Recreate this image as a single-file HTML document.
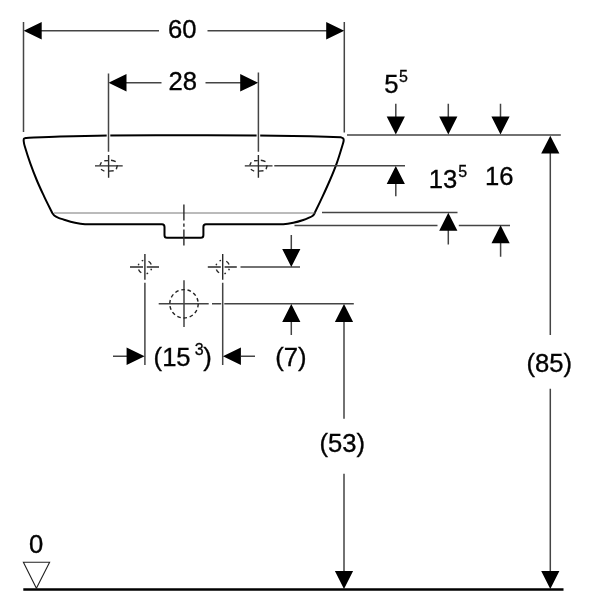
<!DOCTYPE html>
<html><head><meta charset="utf-8">
<style>
html,body{margin:0;padding:0;background:#fff;}
svg{display:block;}
text{font-family:"Liberation Sans",sans-serif;fill:#000;}
.t{font-size:25px;stroke:#000;stroke-width:0.35px;}
.s{font-size:16px;stroke:#000;stroke-width:0.3px;}
.l{stroke:#444;stroke-width:1.5;fill:none;}
.g{stroke:#666;stroke-width:0.9;fill:none;}
.c{stroke:#2a2a2a;stroke-width:1.4;fill:none;}
.b{stroke:#000;stroke-width:2;fill:none;stroke-linejoin:round;stroke-linecap:round;}
.a{fill:#000;stroke:none;}
.d{stroke:#222;stroke-width:1.4;fill:none;}
</style></head><body>
<svg width="600" height="600" viewBox="0 0 600 600">
<rect width="600" height="600" fill="#fff"/>

<!-- 60 dimension -->
<path class="l" d="M23.5 22V132 M344.3 22V132.5 M41 30.8H159 M207.5 30.8H327"/>
<path class="a" d="M23.7 30.8L41.7 22V39.6Z M344.2 30.8L326.2 22V39.6Z"/>

<!-- 28 dimension -->
<path class="l" d="M126 82.8H161.5 M205.5 82.8H241"/>
<path class="a" d="M108.5 82.8L126.5 74V91.6Z M258.2 82.8L240.2 74V91.6Z"/>

<!-- basin outline -->
<path class="b" d="M95 224.2 C93.3 224.2 88.3 224.5 85.0 224.3 C81.7 224.1 78.3 223.5 75.0 222.8 C71.7 222.1 67.8 220.9 65.0 220.0 C62.2 219.1 59.7 218.3 58.0 217.6 C56.3 216.9 55.5 216.5 54.6 215.8 C53.7 215.1 53.2 214.2 52.6 213.4 C52.0 212.6 52.7 213.8 51.3 211.0 C49.9 208.2 46.6 201.9 44.2 196.7 C41.8 191.5 39.0 185.6 36.7 180.0 C34.4 174.4 32.3 168.9 30.3 163.3 C28.3 157.8 26.0 150.4 24.9 146.7 C23.8 143.0 23.8 142.3 23.7 141.0 C23.6 139.7 23.6 139.1 24.0 138.6 C24.4 138.1 25.8 138.0 26.2 137.9 C31.8 137.7 46.4 137.0 60.0 136.6 C73.6 136.2 87.3 135.8 108.0 135.6 C128.7 135.4 159.0 135.3 184.0 135.3 C209.0 135.3 237.0 135.4 258.0 135.6 C279.0 135.8 296.2 136.0 310.0 136.3 C323.8 136.6 335.4 137.0 340.5 137.2 C340.9 137.4 342.7 137.8 343.2 138.4 C343.7 139.0 343.8 139.6 343.6 141.0 C343.4 142.4 343.1 143.0 342.0 146.7 C340.9 150.4 338.7 157.8 336.7 163.3 C334.7 168.9 332.4 174.4 330.0 180.0 C327.6 185.6 324.9 191.5 322.5 196.7 C320.1 201.9 317.0 208.2 315.6 211.0 C314.2 213.8 314.9 212.8 314.4 213.6 C313.9 214.4 313.5 215.2 312.4 216.0 C311.3 216.8 309.5 217.5 308.0 218.2 C306.5 218.9 305.8 219.2 303.3 220.0 C300.9 220.8 296.6 222.1 293.3 222.8 C290.0 223.5 286.9 224.1 283.3 224.3 C279.8 224.5 273.9 224.2 272.0 224.2 H205.9 Q203.4 224.2 203.4 226.7 V235.2 Q203.4 237.7 200.8 237.7 H167 Q164.5 237.7 164.5 235.2 V227 Q164.5 224.2 162 224.2 Z"/>
<path class="g" d="M54 213H315.5"/>
<path stroke="#fff" stroke-width="3.6" fill="none" d="M108.5 132.5V138.5 M258.4 132.5V138.5"/>
<!-- centre line -->
<path class="c" d="M183.9 204.6V220.4 M183.9 223.6V226.7 M183.9 229.6V245.4"/>

<!-- tap hole crosshairs -->
<path class="l" d="M108.5 73.5V151.7 M258.4 72.5V151.7 M274.3 165.8H405"/>
<g>
<path class="c" d="M95 165.9H122.7 M108.6 155V177.7"/>
<path class="c" d="M104.3 160.7L108 160.6 M111 160.3Q113.5 160.5 115.7 161.6 M100 165.2L101.4 162.2 M117.4 165.2L116.3 169.2 M101 169.3Q102.5 170.5 104.4 171.1 M109 171.1L113.7 170.8"/>
</g>
<g transform="translate(149.8 0)">
<path class="c" d="M95 165.9H122.7 M108.6 155V177.7"/>
<path class="c" d="M104.3 160.7L108 160.6 M111 160.3Q113.5 160.5 115.7 161.6 M100 165.2L101.4 162.2 M117.4 165.2L116.3 169.2 M101 169.3Q102.5 170.5 104.4 171.1 M109 171.1L113.7 170.8"/>
</g>
<!-- lower crosshairs -->
<path class="l" d="M144.9 282.8V365 M222.7 282.8V365 M240.5 267H300"/>
<g>
<path class="c" d="M130 267H143 M146.8 267H159 M144.9 254V279.7"/>
<circle class="c" cx="144.9" cy="267" r="6.8" pathLength="360" stroke-dasharray="14 33 14 46 37 36" stroke-dashoffset="-15"/>
</g>
<g transform="translate(77.8 0)">
<path class="c" d="M130 267H143 M146.8 267H159 M144.9 254V279.7"/>
<circle class="c" cx="144.9" cy="267" r="6.8" pathLength="360" stroke-dasharray="14 33 14 46 37 36" stroke-dashoffset="-15"/>
</g>
<path class="l" d="M158.7 303.8H208.7 M212 303.8H221.2 M224.3 303.8H353.8 M184 280.3V327"/>
<circle class="d" cx="184" cy="303.8" r="14.2" stroke-dasharray="3.6 2.77"/>

<!-- 15^3 -->
<path class="l" d="M113 356.3H127 M241 356.3H255"/>
<path class="a" d="M144.6 356.3L126.6 347.5V365.1Z M222.9 356.3L240.9 347.5V365.1Z"/>

<!-- (7) -->
<path class="l" d="M291.3 235V249 M291.3 322V335"/>
<path class="a" d="M291.3 267L282.2 249H300.4Z M291.3 304L282.2 322H300.4Z"/>

<!-- (53) -->
<path class="l" d="M344 322V418.8 M344 473.8V572"/>
<path class="a" d="M344 304L334.9 322H353.1Z M344 589L334.9 571H353.1Z"/>

<!-- (85) -->
<path class="l" d="M550.3 153V335 M550.3 388.8V572"/>
<path class="a" d="M550.3 135.8L541.2 153.6H559.4Z M550.3 589L541.2 571H559.4Z"/>

<!-- top reference line and arrows -->
<path class="l" d="M347 134.9H560.8 M395.8 103.8V117 M448.3 103.8V117 M500.5 103.8V117"/>
<path class="a" d="M395.8 134.5L386.7 116.5H404.9Z M448.3 134.5L439.2 116.5H457.4Z M500.5 134.5L491.4 116.5H509.6Z"/>

<!-- 13^5 -->
<path class="l" d="M395.8 183V196.3 M322 212.5H457.5 M448.3 230V244.5"/>
<path class="a" d="M395.8 166L386.7 184H404.9Z M448.3 212.8L439.2 230.8H457.4Z"/>

<!-- 16 -->
<path class="l" d="M294.5 225.4H437.5 M458.8 225.4H510 M500.6 243V256.8"/>
<path class="a" d="M500.6 225.3L491.5 243.3H509.7Z"/>

<!-- floor -->
<path d="M23.3 589.5H563.5" stroke="#000" stroke-width="2.6" fill="none"/>
<path d="M23.4 562.2H49.6L36.4 588.2Z" stroke="#222" stroke-width="1.1" fill="none"/>
<g id="txt" opacity="0.995">
<text class="t" transform="translate(168 37.6) scale(1.025 1)">60</text>
<text class="t" transform="translate(168.5 89.8) scale(1.025 1)">28</text>
<text class="t" transform="translate(153.6 365.8) scale(1.025 1)">(15</text>
<text class="s" transform="translate(194.8 355) scale(1 1)">3</text>
<text class="t" transform="translate(203.3 365.8) scale(1.025 1)">)</text>
<text class="t" transform="translate(275.2 365.8) scale(1.025 1)">(7)</text>
<text class="t" transform="translate(319.5 452) scale(1.025 1)">(53)</text>
<text class="t" transform="translate(526.5 371.8) scale(1.025 1)">(85)</text>
<text class="t" transform="translate(384.2 92.7) scale(1.025 1)">5</text>
<text class="s" transform="translate(399 81.8) scale(1 1)">5</text>
<text class="t" transform="translate(428.8 187.6) scale(1.025 1)">13</text>
<text class="s" transform="translate(458.3 177) scale(1 1)">5</text>
<text class="t" transform="translate(485 185) scale(1.025 1)">16</text>
<text class="t" transform="translate(29 552.5) scale(1.025 1)">0</text>
</g>
</svg>
</body></html>
